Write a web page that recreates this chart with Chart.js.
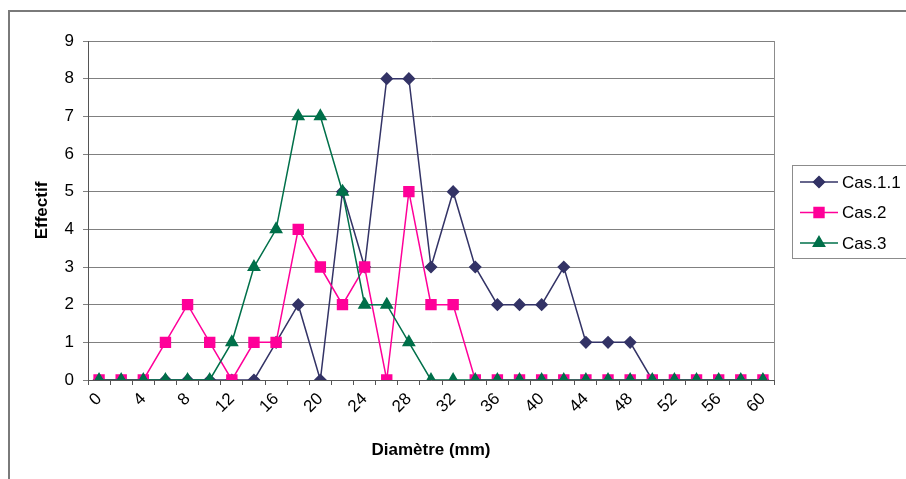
<!DOCTYPE html>
<html lang="fr">
  <head>
    <meta charset="UTF-8">
    <meta name="viewport" content="width=device-width, initial-scale=1.0">
    <title>Effectif par diamètre</title>
    <script src="https://cdn.jsdelivr.net/npm/chart.js"></script>
    <style>
      body { margin: 0; background: #fff; }
    </style>
  </head>

  <body>
    <div style="width: 906px; height: 479px;">
      <canvas id="grafico1" width="906" height="479"></canvas>
    </div>

    <script>
      const ctx = document.getElementById('grafico1');

      let diametres = [0, 2, 4, 6, 8, 10, 12, 14, 16, 18, 20, 22, 24, 26, 28, 30,
                       32, 34, 36, 38, 40, 42, 44, 46, 48, 50, 52, 54, 56, 58, 60]
      let cas11 = [0, 0, 0, 0, 0, 0, 0, 0, 1, 2, 0, 5, 3, 8, 8, 3,
                   5, 3, 2, 2, 2, 3, 1, 1, 1, 0, 0, 0, 0, 0, 0]
      let cas2 = [0, 0, 0, 1, 2, 1, 0, 1, 1, 4, 3, 2, 3, 0, 5, 2,
                  2, 0, 0, 0, 0, 0, 0, 0, 0, 0, 0, 0, 0, 0, 0]
      let cas3 = [0, 0, 0, 0, 0, 0, 1, 3, 4, 7, 7, 5, 2, 2, 1, 0,
                  0, 0, 0, 0, 0, 0, 0, 0, 0, 0, 0, 0, 0, 0, 0]
      let ticksY = [0, 1, 2, 3, 4, 5, 6, 7, 8, 9]

      const police = "'Liberation Sans', Arial, sans-serif"

      // cadre exterieur, bord droit de la zone de tracé et légende encadrée
      const cadre = {
        id: 'cadre',
        afterDraw(chart) {
          const c = chart.ctx
          const a = chart.chartArea
          c.save()
          c.strokeStyle = '#7a7a7a'
          c.lineWidth = 2
          c.strokeRect(9, 11, 920, 500)

          c.strokeStyle = '#8c8c8c'
          c.lineWidth = 1
          c.beginPath()
          c.moveTo(a.right + 0.5, a.top)
          c.lineTo(a.right + 0.5, a.bottom)
          c.stroke()

          c.strokeStyle = '#8c8c8c'
          c.strokeRect(792.5, 165.5, 140, 93)

          c.font = "17px " + police
          c.textBaseline = 'middle'
          chart.data.datasets.forEach((ds, i) => {
            const y = 182 + i * 30.5
            c.strokeStyle = ds.borderColor
            c.lineWidth = 1.5
            c.beginPath()
            c.moveTo(800, y)
            c.lineTo(838, y)
            c.stroke()
            Chart.helpers.drawPoint(c, {
              pointStyle: ds.pointStyle,
              radius: ds.pointRadius,
              borderWidth: 1
            }, 819, y)
            c.fillStyle = ds.pointBackgroundColor
            c.fill()
            c.fillStyle = '#000'
            c.fillText(ds.label, 842, y + 1)
          })
          c.restore()
        }
      }

      let grafico1 = new Chart(ctx, {
        type: 'line',
        data: {
          labels: diametres,
          datasets: [{
            label: 'Cas.1.1',
            data: cas11,
            borderColor: '#333366',
            backgroundColor: '#333366',
            pointBackgroundColor: '#333366',
            pointBorderColor: '#333366',
            pointStyle: 'rectRot',
            pointRadius: 5.5,
            borderWidth: 1.5,
            order: 2
          }, {
            label: 'Cas.2',
            data: cas2,
            borderColor: '#ff0099',
            backgroundColor: '#ff0099',
            pointBackgroundColor: '#ff0099',
            pointBorderColor: '#ff0099',
            pointStyle: 'rect',
            pointRadius: 7,
            borderWidth: 1.5,
            order: 1
          }, {
            label: 'Cas.3',
            data: cas3,
            borderColor: '#00704a',
            backgroundColor: '#00704a',
            pointBackgroundColor: '#00704a',
            pointBorderColor: '#00704a',
            pointStyle: 'triangle',
            pointRadius: 6.5,
            borderWidth: 1.5,
            order: 0
          }]
        },
        options: {
          responsive: false,
          animation: false,
          events: [],
          layout: {
            padding: { left: 0, top: 41, right: 132, bottom: 0 }
          },
          plugins: {
            legend: { display: false },
            tooltip: { enabled: false }
          },
          scales: {
            x: {
              type: 'category',
              offset: true,
              afterFit: s => { s.height = 99 },
              grid: {
                offset: true,
                drawOnChartArea: false,
                drawTicks: true,
                tickLength: 5,
                color: '#555'
              },
              border: { color: '#555', width: 1 },
              ticks: {
                autoSkip: false,
                maxRotation: 45,
                minRotation: 45,
                padding: 4,
                color: '#000',
                font: { family: police, size: 17 },
                callback: function (val, i) {
                  return i % 2 == 0 ? this.getLabelForValue(val) : ''
                }
              },
              title: {
                display: true,
                text: 'Diamètre (mm)',
                color: '#000',
                font: { family: police, size: 17, weight: 'bold' },
                padding: { top: 0, bottom: 18 }
              }
            },
            y: {
              min: 0,
              max: 9,
              afterFit: s => { s.width = 88 },
              afterBuildTicks: s => { s.ticks = ticksY.map(v => ({ value: v })) },
              grid: {
                color: '#808080',
                tickLength: 5,
                drawTicks: true
              },
              border: { color: '#555', width: 1 },
              ticks: {
                padding: 9,
                color: '#000',
                font: { family: police, size: 17 }
              },
              title: {
                display: true,
                text: 'Effectif',
                color: '#000',
                font: { family: police, size: 17, weight: 'bold' },
                padding: { top: 32, bottom: 0 }
              }
            }
          }
        },
        plugins: [cadre]
      });
    </script>
  </body>
</html>
